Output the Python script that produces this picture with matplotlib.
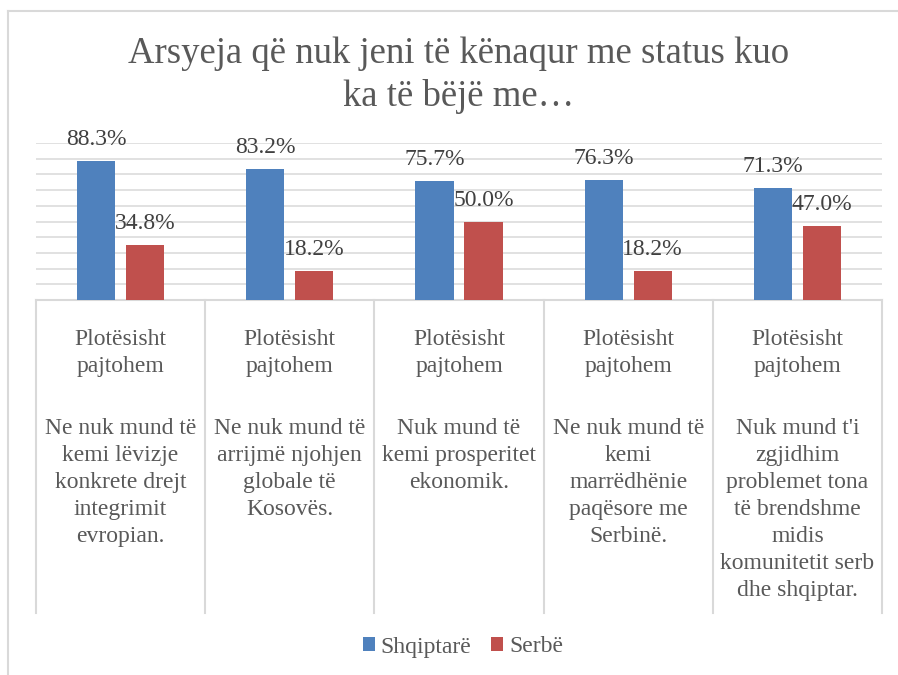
import matplotlib
matplotlib.use("Agg")
import matplotlib.pyplot as plt
from matplotlib.lines import Line2D
import numpy as np

plt.rcParams["font.family"] = ["Liberation Serif", "DejaVu Serif"]

TITLE_LINES = ["Arsyeja që nuk jeni të kënaqur me status kuo", "ka të bëjë me…"]
series_names = ["Shqiptarë", "Serbë"]
shqiptare = [88.3, 83.2, 75.7, 76.3, 71.3]
serbe = [34.8, 18.2, 50.0, 18.2, 47.0]
level_top = "Plotësisht\npajtohem"
categories = [
    "Ne nuk mund të\nkemi lëvizje\nkonkrete drejt\nintegrimit\nevropian.",
    "Ne nuk mund të\narrijmë njohjen\nglobale të\nKosovës.",
    "Nuk mund të\nkemi prosperitet\nekonomik.",
    "Ne nuk mund të\nkemi\nmarrëdhënie\npaqësore me\nSerbinë.",
    "Nuk mund t'i\nzgjidhim\nproblemet tona\ntë brendshme\nmidis\nkomunitetit serb\ndhe shqiptar.",
]

BLUE = "#4F81BD"
RED = "#C0504D"
GRID = "#D9D9D9"
TEXT = "#595959"
LABEL = "#404040"

W, H = 898, 675
AX_L, AX_R, AX_T, AX_B = 36, 882, 143, 300
BOX_B = 613

fig = plt.figure(figsize=(W / 100, H / 100), dpi=100)
ax = fig.add_axes([AX_L / W, 1 - AX_B / H, (AX_R - AX_L) / W, (AX_B - AX_T) / H])

x = np.arange(len(categories))
bw = 0.225
off = 0.145
b1 = ax.bar(x - off, shqiptare, bw, color=BLUE, label=series_names[0], zorder=3)
b2 = ax.bar(x + off, serbe, bw, color=RED, label=series_names[1], zorder=3)

ax.set_xlim(-0.5, len(categories) - 0.5)
ax.set_ylim(0, 100)
ax.set_yticks(np.arange(10, 101, 10))
ax.yaxis.grid(True, color=GRID, lw=1.1, zorder=0)
ax.tick_params(left=False, bottom=False, labelleft=False, labelbottom=False)
for s in ["left", "right", "top"]:
    ax.spines[s].set_visible(False)
ax.spines["bottom"].set_color(GRID)
ax.spines["bottom"].set_linewidth(1.5)

for bars, vals in [(b1, shqiptare), (b2, serbe)]:
    for rect, v in zip(bars, vals):
        ax.annotate(f"{v:.1f}%", (rect.get_x() + rect.get_width() / 2, v),
                    xytext=(0, 11.5), textcoords="offset points",
                    ha="center", va="baseline", fontsize=17, color=LABEL, zorder=4)

# category label boxes
h_ax = AX_B - AX_T
def ypix(p):
    return (AX_B - p) / h_ax

trans = ax.get_xaxis_transform()
for xb in np.arange(-0.5, len(categories), 1.0):
    ax.plot([xb, xb], [0, ypix(BOX_B)], color=GRID, lw=1.5, transform=trans, clip_on=False)

for i, desc in enumerate(categories):
    lines = level_top.split("\n")
    for j, ln in enumerate(lines):
        ax.text(i, ypix(345 + 27 * j), ln, transform=trans, ha="center", va="baseline",
                fontsize=17, color=TEXT, clip_on=False)
    for j, ln in enumerate(desc.split("\n")):
        ax.text(i, ypix(434 + 27 * j), ln, transform=trans, ha="center", va="baseline",
                fontsize=17, color=TEXT, clip_on=False)

# title
for j, ln in enumerate(TITLE_LINES):
    fig.text(458.5 / W, 1 - (63 + 43 * j) / H, ln, ha="center", va="baseline",
             fontsize=26.5, color=TEXT)

# legend
fig.legend(handles=[b1, b2], labels=series_names, loc="center",
           bbox_to_anchor=(463 / W, 1 - 647 / H), ncol=2, frameon=False,
           fontsize=17, labelcolor=TEXT, handlelength=0.5, handleheight=0.5,
           handletextpad=0.25, columnspacing=0.85)

# chart border (only left and top are inside the picture)
fig.add_artist(Line2D([8 / W, 8 / W], [0, 1 - 11 / H], color=GRID, lw=1.5))
fig.add_artist(Line2D([8 / W, 1], [1 - 11 / H, 1 - 11 / H], color=GRID, lw=1.5))

fig.savefig("out.png", dpi=100)
